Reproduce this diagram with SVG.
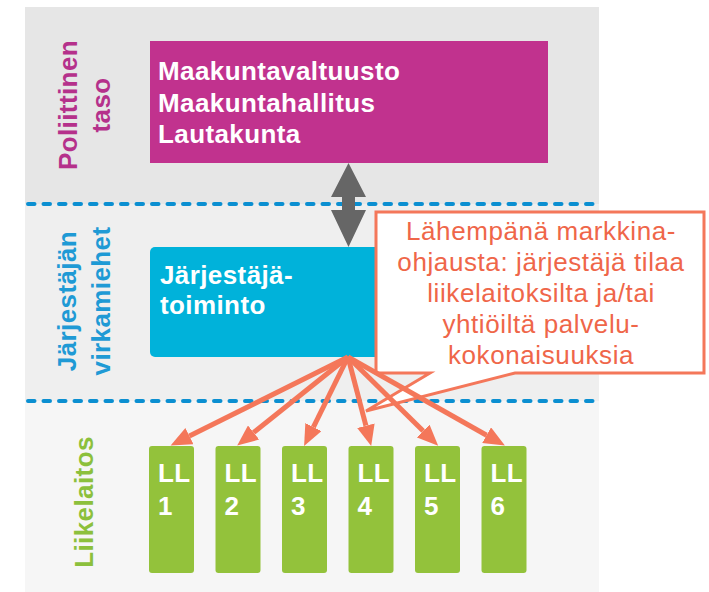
<svg xmlns="http://www.w3.org/2000/svg" width="709" height="592" viewBox="0 0 709 592">
<defs>
<style>
.bold{font-family:"Liberation Sans",Arial,sans-serif;font-weight:bold;font-size:26px;letter-spacing:0.4px}
.wt{fill:#ffffff}
.dash{stroke:#0b8fd1;stroke-width:4;stroke-dasharray:6.5 9;stroke-linecap:round;fill:none}
.ll{fill:#93c23b}
.arr{stroke:#f4775a;stroke-width:5;fill:none;marker-end:url(#ah)}
.co{font-family:"Liberation Sans",Arial,sans-serif;font-size:26px;letter-spacing:0.6px;fill:#ef6649;text-anchor:middle}
</style>
<marker id="ah" markerUnits="userSpaceOnUse" markerWidth="22" markerHeight="18" refX="0" refY="9" orient="auto">
<path d="M0,0 L21,9 L0,18 Z" fill="#f4775a"/>
</marker>
</defs>
<g id="background">
<rect x="25" y="7" width="574" height="197" fill="#e6e6e6"/>
<rect x="25" y="204" width="574" height="197" fill="#efefef"/>
<rect x="25" y="401" width="574" height="191" fill="#f6f6f6"/>
<line class="dash" x1="28" y1="204" x2="597" y2="204"/>
<line class="dash" x1="28" y1="401" x2="597" y2="401"/>
</g>
<g id="labels">
<text class="bold" transform="translate(77,105) rotate(-90)" text-anchor="middle" fill="#b5318b">Poliittinen</text>
<text class="bold" transform="translate(110,105) rotate(-90)" text-anchor="middle" fill="#b5318b">taso</text>
<text class="bold" transform="translate(76,301) rotate(-90)" text-anchor="middle" fill="#1f9ad5">Järjestäjän</text>
<text class="bold" transform="translate(110,301) rotate(-90)" text-anchor="middle" fill="#1f9ad5">virkamiehet</text>
<text class="bold" transform="translate(93,502) rotate(-90)" text-anchor="middle" fill="#8cc03c">Liikelaitos</text>
</g>
<g id="poliittinen">
<rect x="150" y="41" width="398" height="122" fill="#c1328e"/>
<text class="bold wt" x="158" y="80">Maakuntavaltuusto</text>
<text class="bold wt" x="158" y="112">Maakuntahallitus</text>
<text class="bold wt" x="158" y="143">Lautakunta</text>
</g>
<g id="jarjestaja">
<rect x="150" y="247" width="236" height="110" rx="5" fill="#00b2da"/>
<text class="bold wt" x="160" y="284">Järjestäjä-</text>
<text class="bold wt" x="160" y="314">toiminto</text>
</g>
<g id="callout">
<path d="M376,212 H704 V373 H515 L366,411 L430,373 H376 Z" fill="#ffffff" stroke="#f4775a" stroke-width="3" stroke-linejoin="miter"/>
<text class="co" x="541" y="240">Lähempänä markkina-</text>
<text class="co" x="541" y="271">ohjausta: järjestäjä tilaa</text>
<text class="co" x="541" y="302">liikelaitoksilta ja/tai</text>
<text class="co" x="541" y="333">yhtiöiltä palvelu-</text>
<text class="co" x="541" y="364">kokonaisuuksia</text>
</g>
<g id="ll1"><rect class="ll" x="149" y="446" width="45" height="127" rx="3"/><text class="bold wt" x="158" y="482">LL</text><text class="bold wt" x="158" y="515">1</text></g>
<g id="ll2"><rect class="ll" x="215.5" y="446" width="45" height="127" rx="3"/><text class="bold wt" x="224.5" y="482">LL</text><text class="bold wt" x="224.5" y="515">2</text></g>
<g id="ll3"><rect class="ll" x="282" y="446" width="45" height="127" rx="3"/><text class="bold wt" x="291" y="482">LL</text><text class="bold wt" x="291" y="515">3</text></g>
<g id="ll4"><rect class="ll" x="348.5" y="446" width="45" height="127" rx="3"/><text class="bold wt" x="357.5" y="482">LL</text><text class="bold wt" x="357.5" y="515">4</text></g>
<g id="ll5"><rect class="ll" x="415" y="446" width="45" height="127" rx="3"/><text class="bold wt" x="424" y="482">LL</text><text class="bold wt" x="424" y="515">5</text></g>
<g id="ll6"><rect class="ll" x="481.5" y="446" width="45" height="127" rx="3"/><text class="bold wt" x="490.5" y="482">LL</text><text class="bold wt" x="490.5" y="515">6</text></g>
<g id="connectors">
<polygon points="348.5,163 366,197 355,197 355,210 366,210 348.5,247 331,210 342,210 342,197 331,197" fill="#666666"/>
<line class="arr" x1="348" y1="357" x2="189.4" y2="436.1"/>
<line class="arr" x1="348" y1="357" x2="253.6" y2="432.5"/>
<line class="arr" x1="348" y1="357" x2="313.4" y2="427.1"/>
<line class="arr" x1="348" y1="357" x2="365.9" y2="425.7"/>
<line class="arr" x1="348" y1="357" x2="423.2" y2="431"/>
<line class="arr" x1="348" y1="357" x2="486.6" y2="435.2"/>
</g>
</svg>
